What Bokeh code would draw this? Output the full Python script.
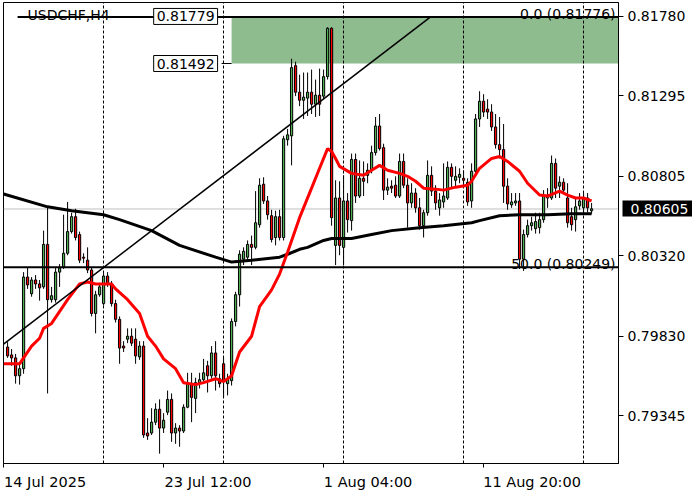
from bokeh.plotting import figure
from bokeh.models import (Range1d, FixedTicker, PrintfTickFormatter, Span, Label, Grid, LinearAxis)
from bokeh.embed import file_html
from bokeh.resources import INLINE

# ---------------- data (USDCHF, H4) ----------------
open_ = [0.79763,0.79715,0.79697,0.79588,0.79631,0.80190,0.80088,0.80172,0.80148,0.80130,
         0.80389,0.80052,0.80052,0.80220,0.80251,0.80335,0.80467,0.80558,0.80449,0.80311,
         0.80293,0.80233,0.79968,0.80082,0.80028,0.80196,0.80148,0.80028,0.79932,0.79769,
         0.79811,0.79829,0.79811,0.79703,0.79769,0.79239,0.79239,0.79305,0.79384,0.79269,
         0.79366,0.79444,0.79239,0.79269,0.79251,0.79396,0.79540,0.79450,0.79546,0.79564,
         0.79649,0.79588,0.79727,0.79570,0.79661,0.79540,0.79558,0.79919,0.80082,0.80299,
         0.80311,0.80389,0.80371,0.80509,0.80756,0.80654,0.80564,0.80431,0.80558,0.80431,
         0.81027,0.81051,0.81479,0.81317,0.81268,0.81281,0.81317,0.81244,0.81299,0.81293,
         0.81412,0.81707,0.80383,0.80672,0.80371,0.80654,0.80534,0.80907,0.80684,0.80792,
         0.80810,0.80841,0.80949,0.81111,0.80979,0.80720,0.80744,0.80750,0.80684,0.80895,
         0.80750,0.80642,0.80702,0.80612,0.80503,0.80582,0.80810,0.80714,0.80612,0.80648,
         0.80672,0.80859,0.80780,0.80798,0.80792,0.80768,0.80654,0.80835,0.81154,0.81262,
         0.81214,0.81196,0.81105,0.80997,0.80967,0.80744,0.80630,0.80642,0.80654,0.80299,
         0.80449,0.80503,0.80485,0.80491,0.80540,0.80672,0.80672,0.80883,0.80744,0.80768,
         0.80672,0.80558,0.80540,0.80624,0.80612,0.80672,0.80594]
high_ = [0.79793,0.79751,0.79721,0.79661,0.80220,0.80251,0.80190,0.80202,0.80172,0.80473,
         0.80612,0.80130,0.80251,0.80269,0.80570,0.80648,0.80582,0.80606,0.80467,0.80335,
         0.80371,0.80251,0.80106,0.80154,0.80214,0.80220,0.80166,0.80052,0.79950,0.79799,
         0.79877,0.79877,0.79877,0.79799,0.79799,0.79330,0.79390,0.79420,0.79444,0.79360,
         0.79498,0.79480,0.79299,0.79287,0.79414,0.79606,0.79606,0.79576,0.79606,0.79691,
         0.79679,0.79769,0.79799,0.79600,0.79697,0.79600,0.79938,0.80100,0.80353,0.80371,
         0.80413,0.80443,0.80714,0.80792,0.80798,0.80684,0.80600,0.80594,0.80600,0.81051,
         0.81093,0.81521,0.81503,0.81424,0.81437,0.81437,0.81455,0.81394,0.81461,0.81455,
         0.81713,0.81713,0.80780,0.80774,0.80810,0.80702,0.80943,0.80943,0.80901,0.80895,
         0.80883,0.80991,0.81166,0.81184,0.81003,0.80792,0.80780,0.80804,0.80943,0.80943,
         0.80792,0.80762,0.80732,0.80672,0.80600,0.80901,0.80865,0.80750,0.80702,0.80883,
         0.80895,0.80883,0.80865,0.80853,0.80841,0.80792,0.80883,0.81184,0.81323,0.81305,
         0.81274,0.81244,0.81184,0.81166,0.81123,0.80792,0.80702,0.80702,0.80702,0.80479,
         0.80540,0.80558,0.80582,0.80582,0.80720,0.80732,0.80931,0.80913,0.80804,0.80792,
         0.80762,0.80612,0.80672,0.80702,0.80702,0.80702,0.80642]
low_ = [0.79697,0.79649,0.79540,0.79534,0.79600,0.80118,0.80070,0.80118,0.80046,0.80118,
        0.79480,0.80034,0.80034,0.80130,0.80239,0.80323,0.80455,0.80413,0.80275,0.80275,
        0.80214,0.79950,0.79847,0.80070,0.80016,0.80130,0.80010,0.79913,0.79661,0.79733,
        0.79787,0.79769,0.79661,0.79685,0.79209,0.79197,0.79227,0.79287,0.79113,0.79239,
        0.79348,0.79185,0.79173,0.79155,0.79239,0.79390,0.79305,0.79360,0.79510,0.79552,
        0.79486,0.79570,0.79498,0.79516,0.79456,0.79468,0.79528,0.79889,0.80010,0.80263,
        0.80293,0.80263,0.80359,0.80491,0.80636,0.80540,0.80401,0.80383,0.80413,0.80413,
        0.80991,0.80871,0.81293,0.81232,0.81154,0.81172,0.81184,0.81166,0.81172,0.81274,
        0.81394,0.80503,0.80263,0.80323,0.80263,0.80461,0.80473,0.80642,0.80672,0.80684,
        0.80762,0.80822,0.80931,0.80961,0.80660,0.80690,0.80702,0.80672,0.80672,0.80732,
        0.80491,0.80612,0.80582,0.80479,0.80431,0.80564,0.80684,0.80600,0.80564,0.80612,
        0.80660,0.80732,0.80732,0.80762,0.80744,0.80624,0.80612,0.80822,0.81105,0.81166,
        0.81154,0.81081,0.80973,0.80913,0.80642,0.80600,0.80612,0.80624,0.80239,0.80227,
        0.80431,0.80473,0.80455,0.80455,0.80521,0.80612,0.80660,0.80672,0.80672,0.80702,
        0.80491,0.80473,0.80467,0.80600,0.80582,0.80582,0.80576]
close_ = [0.79709,0.79697,0.79588,0.79631,0.80190,0.80142,0.80172,0.80148,0.80124,0.80389,
          0.80052,0.80076,0.80220,0.80245,0.80335,0.80467,0.80558,0.80431,0.80293,0.80305,
          0.80233,0.79968,0.80082,0.80130,0.80196,0.80148,0.80028,0.79932,0.79757,0.79757,
          0.79829,0.79787,0.79709,0.79769,0.79227,0.79221,0.79305,0.79384,0.79269,0.79317,
          0.79444,0.79239,0.79269,0.79251,0.79396,0.79540,0.79456,0.79546,0.79564,0.79606,
          0.79588,0.79727,0.79588,0.79540,0.79558,0.79570,0.79919,0.80082,0.80329,0.80347,
          0.80389,0.80371,0.80521,0.80750,0.80654,0.80570,0.80419,0.80558,0.80431,0.81033,
          0.81057,0.81467,0.81317,0.81268,0.81287,0.81317,0.81244,0.81299,0.81244,0.81412,
          0.81707,0.80552,0.80672,0.80383,0.80654,0.80540,0.80907,0.80684,0.80792,0.80774,
          0.80841,0.80949,0.81111,0.80973,0.80720,0.80738,0.80732,0.80684,0.80895,0.80750,
          0.80642,0.80702,0.80612,0.80503,0.80582,0.80810,0.80714,0.80642,0.80660,0.80684,
          0.80859,0.80804,0.80804,0.80816,0.80780,0.80648,0.80835,0.81154,0.81262,0.81196,
          0.81196,0.81105,0.80997,0.80967,0.80744,0.80636,0.80648,0.80654,0.80299,0.80449,
          0.80503,0.80521,0.80528,0.80540,0.80684,0.80690,0.80883,0.80732,0.80768,0.80720,
          0.80521,0.80509,0.80618,0.80654,0.80672,0.80612,0.80606]

# fast moving average (red), read at bar positions
ma_fast_bar = [-1, 3, 4, 6, 8, 9, 11, 15, 18, 20, 22, 24, 26, 27, 30, 33, 35, 37, 39, 42,
               44, 47, 49, 52, 54, 56, 58, 61, 63, 66, 68, 70, 73, 76, 78, 80, 81, 82, 83, 86,
               89, 91, 93, 95, 98, 100, 102, 104, 107, 109, 112, 115, 116, 118, 121, 123, 125,
               128, 130, 133, 135, 138, 140, 142, 144, 146]
ma_fast = [0.79661, 0.79661, 0.79697, 0.79769, 0.79817, 0.79877, 0.79907, 0.80052, 0.80148, 0.80160,
           0.80148, 0.80148, 0.80148, 0.80118, 0.80052, 0.79968, 0.79829, 0.79769, 0.79691, 0.79631,
           0.79546, 0.79534, 0.79546, 0.79570, 0.79552, 0.79588, 0.79733, 0.79829, 0.80010, 0.80112,
           0.80208, 0.80341, 0.80552, 0.80732, 0.80853, 0.80973, 0.80955, 0.80913, 0.80865, 0.80822,
           0.80810, 0.80841, 0.80871, 0.80841, 0.80822, 0.80804, 0.80774, 0.80732, 0.80726, 0.80720,
           0.80738, 0.80750, 0.80774, 0.80853, 0.80913, 0.80925, 0.80895, 0.80835, 0.80762, 0.80690,
           0.80684, 0.80714, 0.80690, 0.80672, 0.80672, 0.80654]
# slow moving average (black)
ma_slow_bar = [-1, 10, 16, 24, 28, 36, 43, 52, 56, 61, 68, 70, 73, 75, 79, 81, 86, 91, 96, 103,
               109, 116, 118, 123, 128, 135, 141, 146]
ma_slow = [0.80696, 0.80618, 0.80594, 0.80570, 0.80540, 0.80473, 0.80383, 0.80311, 0.80281, 0.80293,
           0.80311, 0.80329, 0.80359, 0.80371, 0.80413, 0.80425, 0.80425, 0.80449, 0.80473, 0.80491,
           0.80503, 0.80521, 0.80534, 0.80564, 0.80570, 0.80570, 0.80576, 0.80576]

trend_bar = [-1, 105.75]
trend_price = [0.79781, 0.81776]

fib_levels = [0.81776, 0.80249]
fib_start = [2.5, -5]
fib_texts = ["0.0 (0.81776)", "50.0 (0.80249)"]

zone_left = 56
zone_top = 0.81779
zone_bottom = 0.81492
bid = 0.80605

y_ticks = [0.79345, 0.79830, 0.80320, 0.80805, 0.81295, 0.81780]
x_ticks = [-1, 39, 79, 119]
x_tick_labels = ["14 Jul 2025", "23 Jul 12:00", "1 Aug 04:00", "11 Aug 20:00"]
sep_bars = [24, 54, 84, 114, 144]
symbol = "USDCHF,H4"

# ---------------- style ----------------
FONT = "DejaVu Sans"
FS = "14px"
GREEN = "#4caf50"
RED = "#ff0000"
PX_PER_BAR = 4.0
label_px_w = [83, 89, 89, 97]          # rendered widths of the date labels (layout only)
x_label_pos = [t + w / (2 * PX_PER_BAR) for t, w in zip(x_ticks, label_px_w)]

# ---------------- figure ----------------
p = figure(width=692, height=492, output_backend="svg", toolbar_location=None,
           x_range=Range1d(-1.02, 152.73), y_range=Range1d(0.79053, 0.81864),
           x_axis_location="below", y_axis_location="right",
           min_border_left=3, min_border_top=2, min_border_right=74, min_border_bottom=22)
p.background_fill_color = "white"
p.border_fill_color = "white"
p.outline_line_color = "black"
p.outline_line_width = 1
p.xgrid.visible = False
p.ygrid.visible = False

# green zone (background object)
p.quad(left=[zone_left], right=[200], top=[zone_top], bottom=[zone_bottom],
       fill_color="#8fbc8f", line_color=None, level="image")

# vertical separators
vg = Grid(dimension=0, ticker=FixedTicker(ticks=sep_bars), grid_line_color="black",
          grid_line_dash="3 2", grid_line_width=1)
p.add_layout(vg)

# bid line
p.add_layout(Span(location=bid, dimension="width", line_color="#c0c0c0", line_width=1, level="underlay"))

# candles
bars = list(range(len(open_)))
p.segment(x0=bars, y0=low_, x1=bars, y1=high_, line_color="black", line_width=1)
tops = [max(o, c) for o, c in zip(open_, close_)]
bots = [min(o, c) for o, c in zip(open_, close_)]
cols = [GREEN if c >= o else RED for o, c in zip(open_, close_)]
p.vbar(x=bars, width=0.55, top=tops, bottom=bots, fill_color=cols, line_color="black", line_width=1)

# moving averages
p.line(ma_slow_bar, ma_slow, line_color="black", line_width=3)
p.line(ma_fast_bar, ma_fast, line_color=RED, line_width=3)

# trend line
p.line(trend_bar, trend_price, line_color="black", line_width=1.5)

# fib lines
p.segment(x0=fib_start, y0=fib_levels, x1=[200, 200], y1=fib_levels, line_color="black", line_width=2)

# connecting tick for the zone price box
p.segment(x0=[zone_left - 2.5], y0=[zone_bottom], x1=[zone_left], y1=[zone_bottom], line_color="black", line_width=1)

# ---------------- axes ----------------
ya = p.yaxis[0]
ya.ticker = FixedTicker(ticks=y_ticks)
ya.formatter = PrintfTickFormatter(format="%.5f")
ya.major_tick_in = 0
ya.major_tick_out = 5
ya.minor_tick_out = 0
ya.minor_tick_in = 0
ya.axis_line_color = "black"
ya.major_tick_line_color = "black"
ya.major_label_text_font = FONT
ya.major_label_text_font_size = FS
ya.major_label_text_color = "black"
ya.major_label_standoff = 4

# current-price tag (black box drawn by a wide tick, white label)
bid_axis = LinearAxis(ticker=FixedTicker(ticks=[bid]), formatter=PrintfTickFormatter(format="%.5f"),
                      axis_line_color=None, major_tick_line_color="black", major_tick_line_width=16,
                      major_tick_in=66, major_tick_out=6, minor_tick_in=0, minor_tick_out=0,
                      major_label_standoff=-64, major_label_text_color="white",
                      major_label_text_font=FONT, major_label_text_font_size=FS)
p.add_layout(bid_axis, "right")

xa = p.xaxis[0]
xa.ticker = FixedTicker(ticks=x_label_pos, minor_ticks=x_ticks)
xa.major_label_overrides = {pos: s for pos, s in zip(x_label_pos, x_tick_labels)}
xa.major_tick_in = 0
xa.major_tick_out = 0
xa.minor_tick_in = 0
xa.minor_tick_out = 4
xa.minor_tick_line_color = "black"
xa.axis_line_color = "black"
xa.major_label_text_font = FONT
xa.major_label_text_font_size = "14.5px"
xa.major_label_text_color = "black"
xa.major_label_standoff = 6

# ---------------- labels ----------------
p.add_layout(Label(x=5, y=0.81786, text=symbol, text_align="left", text_baseline="middle",
                   text_font=FONT, text_font_size=FS, text_color="black"))
for lvl, txt in zip(fib_levels, fib_texts):
    p.add_layout(Label(x=152.0, y=lvl, text=txt, text_align="right", text_baseline="alphabetic",
                       y_offset=3, text_font=FONT, text_font_size=FS, text_color="black"))
for pr in [zone_top, zone_bottom]:
    p.add_layout(Label(x=zone_left, y=pr, text=f"{pr:.5f}", text_align="right", text_baseline="middle",
                       x_offset=-14, text_font=FONT, text_font_size=FS, text_color="black",
                       background_fill_color="white", border_line_color="black", border_line_width=1,
                       padding=3))

open("out.html", "w").write(file_html(p, INLINE))
